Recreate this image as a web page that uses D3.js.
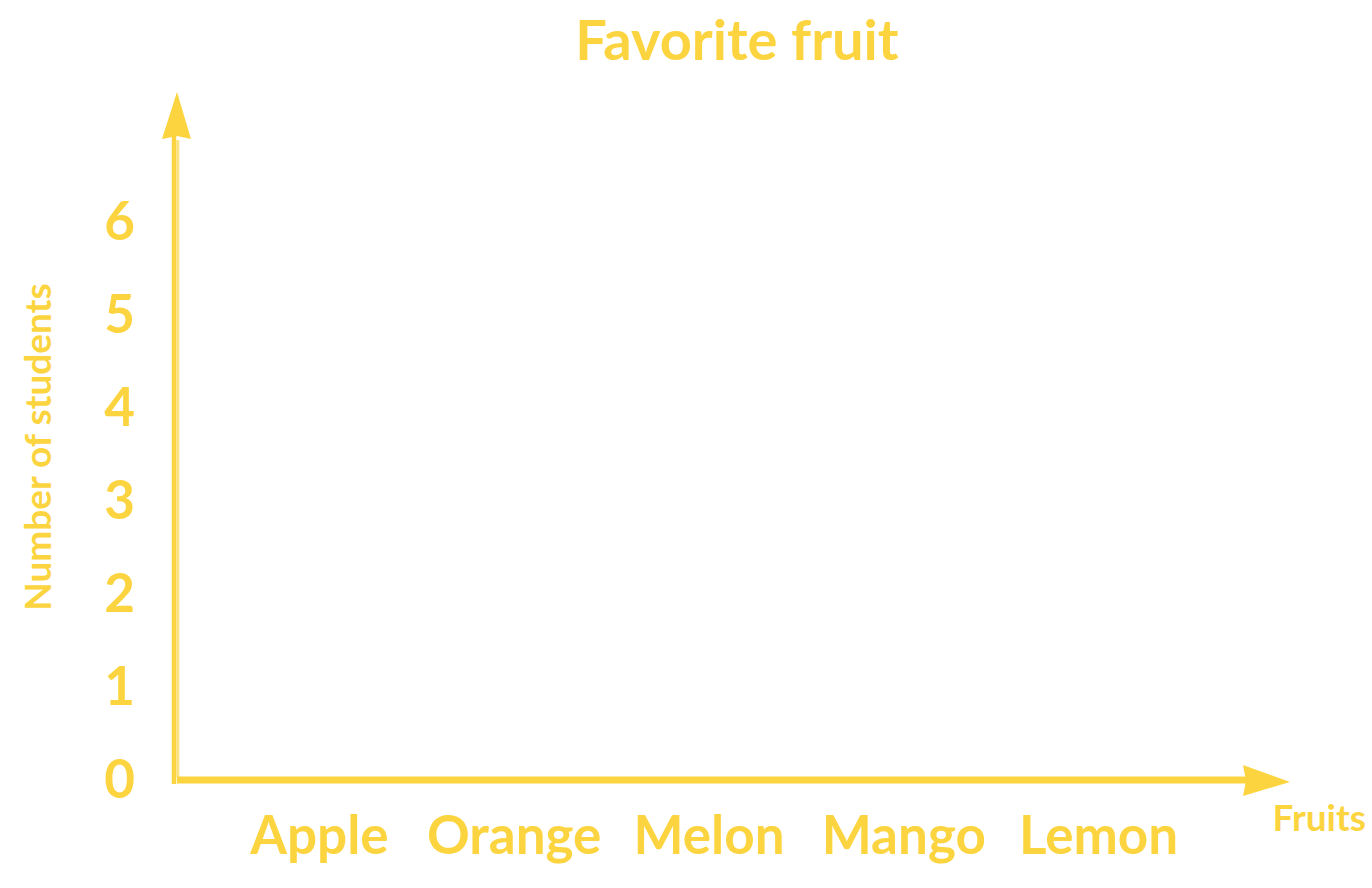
<!DOCTYPE html>
<html>
<head>
<meta charset="utf-8">
<script src="https://cdn.jsdelivr.net/npm/d3@7"></script>
<style>
  html, body { margin: 0; padding: 0; background: #ffffff; }
  svg text { font-family: Lato, "Open Sans", sans-serif; font-weight: 700; }
</style>
</head>
<body>
<svg id="chart" width="1372" height="888"></svg>
<script>
const title = "Favorite fruit";
const xTitle = "Fruits";
const yTitle = "Number of students";
const categories = ["Apple", "Orange", "Melon", "Mango", "Lemon"];
const yTicks = [0, 1, 2, 3, 4, 5, 6];
const yMax = 7;

const color = "#fcd43f";
const lightLine = "#fce17c";

const svg = d3.select("#chart");

const x = d3.scaleBand().domain(categories).range([222, 1196]);
const y = d3.scaleLinear().domain([0, yMax]).range([779, 128]);

// Title
svg.append("text")
  .attr("x", 737).attr("y", 60)
  .attr("text-anchor", "middle")
  .attr("font-size", 56)
  .attr("fill", color)
  .text(title);

// Y axis line
svg.append("line")
  .attr("x1", 174).attr("x2", 174)
  .attr("y1", 784).attr("y2", 134)
  .attr("stroke", color).attr("stroke-width", 4.5);
svg.append("line")
  .attr("x1", 177.8).attr("x2", 177.8)
  .attr("y1", 777).attr("y2", 140)
  .attr("stroke", lightLine).attr("stroke-width", 3);
// Y arrow head
svg.append("path")
  .attr("d", "M177,92 L191,139 L177,136 L162,139 Z")
  .attr("fill", color);

// X axis line
svg.append("line")
  .attr("x1", 177).attr("x2", 1250)
  .attr("y1", 780).attr("y2", 780)
  .attr("stroke", color).attr("stroke-width", 7);
// X arrow head
svg.append("path")
  .attr("d", "M1290,782 L1243,796 L1246,781 L1243,765 Z")
  .attr("fill", color);

// Y tick labels
svg.append("g").selectAll("text")
  .data(yTicks).join("text")
  .attr("x", 135)
  .attr("y", d => y(d))
  .attr("dy", "0.36em")
  .attr("text-anchor", "end")
  .attr("font-size", 53)
  .attr("fill", color)
  .text(d => d);

// X category labels
svg.append("g").selectAll("text")
  .data(categories).join("text")
  .attr("x", d => x(d) + x.bandwidth() / 2)
  .attr("y", 854)
  .attr("text-anchor", "middle")
  .attr("font-size", 53)
  .attr("fill", color)
  .text(d => d);

// Axis titles
svg.append("text")
  .attr("x", 1366).attr("y", 831)
  .attr("text-anchor", "end")
  .attr("font-size", 37)
  .attr("fill", color)
  .text(xTitle);

svg.append("text")
  .attr("transform", "translate(51,447) rotate(-90)")
  .attr("text-anchor", "middle")
  .attr("font-size", 37)
  .attr("fill", color)
  .text(yTitle);
</script>
</body>
</html>
